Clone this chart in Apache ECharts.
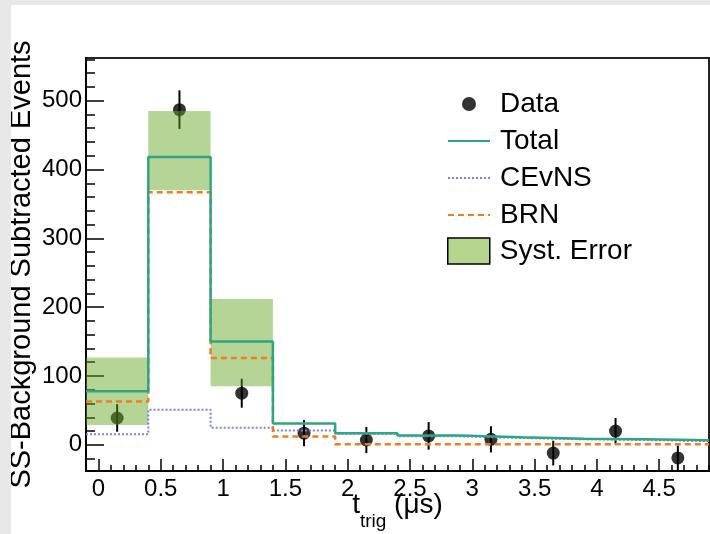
<!DOCTYPE html>
<html>
<head>
<meta charset="utf-8">
<script src="https://cdn.jsdelivr.net/npm/echarts@6/dist/echarts.min.js"></script>
<style>
  html, body { margin: 0; padding: 0; background: #e8e8e8; width: 710px; height: 534px; overflow: hidden; }
  #chart { position: absolute; left: 11px; top: 5px; width: 699px; height: 529px; background: #ffffff; }
</style>
</head>
<body>
<div id="chart"></div>
<script>
// ---- data ----
const binLowEdges = [-0.1, 0.4, 0.9, 1.4, 1.9, 2.4, 2.9, 3.4, 3.9, 4.4];
const binWidth = 0.5;
const dataValues  = [39, 487, 75, 17, 7, 13, 8, -12, 20, -19];
const dataErrors  = [20, 28, 21, 19, 19, 20, 19, 18, 19, 18];
const totalValues = [78, 418, 150, 31, 17, 13.5, 11, 9, 8, 6.5];
const cevnsValues = [15.5, 51, 25, 21, 16, 12.5, 10, 8, 7, 5.5];
const brnValues   = [63, 367, 126, 12, 1, 1, 1, 1, 1, 1];
const systLow     = [29, 370, 85, null, null, null, null, null, null, null];
const systHigh    = [127, 485, 212, null, null, null, null, null, null, null];
const xTickLabels = [0, 0.5, 1, 1.5, 2, 2.5, 3, 3.5, 4, 4.5];
const yTickLabels = [0, 100, 200, 300, 400, 500];
const xRange = [-0.1, 4.9];
const yRange = [-38, 562];

// ---- helpers ----
const font = 'Liberation Sans, Arial, Helvetica, sans-serif';
const xMinor = [];
for (let k = -1; k <= 49; k++) xMinor.push(Math.round(k * 10) / 100);
const yMinor = [];
for (let k = -1; k <= 28; k++) yMinor.push(k * 20);

function stepData(vals) {
  const d = binLowEdges.map((lo, i) => [lo, vals[i]]);
  d.push([binLowEdges[binLowEdges.length - 1] + binWidth, vals[vals.length - 1]]);
  return d;
}
const centers = binLowEdges.map(lo => lo + binWidth / 2);
const pointData = centers.map((c, i) => [c, dataValues[i]]);
const errData = centers.map((c, i) => [c, dataValues[i], dataErrors[i]]);
const bandData = [];
binLowEdges.forEach((lo, i) => {
  if (systLow[i] !== null) bandData.push([lo, lo + binWidth, systLow[i], systHigh[i]]);
});

const chart = echarts.init(document.getElementById('chart'), null, { renderer: 'canvas' });

const hiddenSymbol = { opacity: 0 };
const legendText = { fontFamily: font, fontSize: 28, color: '#000', padding: [0, 0, 0, 5] };

const option = {
  animation: false,
  backgroundColor: '#ffffff',
  textStyle: { fontFamily: font, color: '#000' },
  grid: {
    left: 75, top: 53, width: 623, height: 413,
    outerBoundsMode: 'none', containLabel: false,
    show: true, borderColor: '#222', borderWidth: 2, backgroundColor: 'transparent'
  },
  legend: [
    {
      orient: 'vertical', left: 436, top: 85, padding: 0,
      itemWidth: 42, itemHeight: 14, itemGap: 9,
      textStyle: legendText,
      data: [
        { name: 'Data', icon: 'circle' },
        { name: 'Total', itemStyle: hiddenSymbol },
        { name: 'CEvNS', itemStyle: hiddenSymbol },
        { name: 'BRN', itemStyle: hiddenSymbol }
      ],
      selectedMode: false
    },
    {
      orient: 'vertical', left: 436, top: 232, padding: 0,
      itemWidth: 42, itemHeight: 26,
      textStyle: legendText,
      data: [
        { name: 'Syst. Error', icon: 'rect',
          itemStyle: { color: '#b5d48e', borderColor: '#000', borderWidth: 1.5 } }
      ],
      selectedMode: false
    }
  ],
  xAxis: [
    {
      type: 'value', min: xRange[0], max: xRange[1], position: 'bottom',
      axisLine: { show: true, onZero: false, lineStyle: { color: '#000', width: 2 } },
      axisTick: { show: true, inside: true, length: 12, customValues: xTickLabels,
                  lineStyle: { color: '#000', width: 1.5 } },
      axisLabel: { show: true, customValues: xTickLabels, fontSize: 24, color: '#000',
                   fontFamily: font, margin: 6, formatter: v => String(v) },
      splitLine: { show: false },
      name: '{a|t}{b|trig}{a| (μs)}',
      nameLocation: 'middle', nameGap: 9, nameMoveOverlap: false,
      nameTextStyle: {
        fontFamily: font, color: '#000',
        rich: {
          a: { fontSize: 28, fontFamily: font, color: '#000' },
          b: { fontSize: 19, fontFamily: font, color: '#000', padding: [32, 0, 0, 0] }
        }
      }
    },
    {
      type: 'value', min: xRange[0], max: xRange[1], position: 'bottom',
      axisLine: { show: false, onZero: false },
      axisTick: { show: true, inside: true, length: 6, customValues: xMinor,
                  lineStyle: { color: '#000', width: 1.5 } },
      axisLabel: { show: false },
      splitLine: { show: false }
    }
  ],
  yAxis: [
    {
      type: 'value', min: yRange[0], max: yRange[1], position: 'left',
      axisLine: { show: true, onZero: false, lineStyle: { color: '#000', width: 2 } },
      axisTick: { show: true, inside: true, length: 18, customValues: yTickLabels,
                  lineStyle: { color: '#000', width: 1.5 } },
      axisLabel: { show: true, customValues: yTickLabels, fontSize: 24, color: '#000',
                   fontFamily: font, margin: 4 },
      splitLine: { show: false },
      name: 'SS-Background Subtracted Events',
      nameLocation: 'middle', nameRotate: 90, nameGap: 50, nameMoveOverlap: false,
      nameTextStyle: { fontFamily: font, fontSize: 29, color: '#000' }
    },
    {
      type: 'value', min: yRange[0], max: yRange[1], position: 'left',
      axisLine: { show: false, onZero: false },
      axisTick: { show: true, inside: true, length: 9, customValues: yMinor,
                  lineStyle: { color: '#000', width: 1.5 } },
      axisLabel: { show: false },
      splitLine: { show: false }
    }
  ],
  series: [
    {
      name: 'Data', type: 'scatter', xAxisIndex: 0, yAxisIndex: 0,
      data: pointData, symbol: 'circle', symbolSize: 13,
      itemStyle: { color: '#000' }, z: 2
    },
    {
      name: 'DataErr', type: 'custom', xAxisIndex: 0, yAxisIndex: 0,
      data: errData, z: 2,
      renderItem: (params, api) => {
        const x = api.value(0), v = api.value(1), e = api.value(2);
        const p1 = api.coord([x, v - e]);
        const p2 = api.coord([x, v + e]);
        return { type: 'line', shape: { x1: p1[0], y1: p1[1], x2: p2[0], y2: p2[1] },
                 style: { stroke: '#000', lineWidth: 2 } };
      }
    },
    {
      name: 'Syst. Error', type: 'custom', xAxisIndex: 0, yAxisIndex: 0,
      data: bandData, z: 3,
      itemStyle: { color: 'rgba(99,168,34,0.48)' },
      renderItem: (params, api) => {
        const a = api.coord([api.value(0), api.value(3)]);
        const b = api.coord([api.value(1), api.value(2)]);
        return { type: 'rect', shape: { x: a[0], y: a[1], width: b[0] - a[0], height: b[1] - a[1] },
                 style: { fill: 'rgba(99,168,34,0.48)' } };
      }
    },
    {
      name: 'Total', type: 'line', step: 'end', xAxisIndex: 0, yAxisIndex: 0,
      data: stepData(totalValues), symbol: 'none', z: 5,
      itemStyle: { color: '#2ea585' },
      lineStyle: { color: '#2ea585', width: 2.5, type: 'solid' }
    },
    {
      name: 'CEvNS', type: 'line', step: 'end', xAxisIndex: 0, yAxisIndex: 0,
      data: stepData(cevnsValues), symbol: 'none', z: 4,
      itemStyle: { color: '#7f7fe6' },
      lineStyle: { color: '#7f7fe6', width: 2, type: [2, 2] }
    },
    {
      name: 'BRN', type: 'line', step: 'end', xAxisIndex: 0, yAxisIndex: 0,
      data: stepData(brnValues), symbol: 'none', z: 4,
      itemStyle: { color: '#f07d22' },
      lineStyle: { color: '#f07d22', width: 2.5, type: [6, 4] }
    }
  ]
};
chart.setOption(option);
</script>
</body>
</html>
